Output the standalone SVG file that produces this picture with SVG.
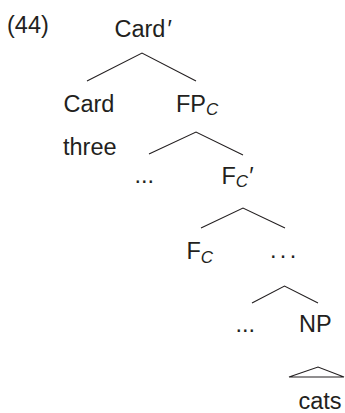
<svg xmlns="http://www.w3.org/2000/svg" width="345" height="413" viewBox="0 0 345 413">
<style>
text{font-family:"Liberation Sans",Arial,sans-serif;font-size:23.5px;fill:#231f20}
.sub{font-size:17px;font-style:italic}
.e{fill:none;stroke:#231f20;stroke-width:1.1}
</style>
<rect width="345" height="413" fill="#fff"/>
<g id="connectors">
<path class="e" d="M87 81L142 53L196 81"/>
<path class="e" d="M149 154L196 132L243 155"/>
<path class="e" d="M201 228L243 208L285 228"/>
<path class="e" d="M252 303L284.5 286L318 303"/>
<path class="e" d="M289 377L318 367L344 377Z"/>
</g>
<g id="label44"><text x="7" y="33">(44)</text></g>
<g id="cardbar"><text x="114.5" y="37">Card<tspan dx="2">′</tspan></text></g>
<g id="card"><text x="63.5" y="111.5">Card</text></g>
<g id="fpc"><text x="176" y="111.5">FP<tspan class="sub" dy="3.5">C</tspan></text></g>
<g id="three"><text x="63" y="155">three</text></g>
<g id="dots1"><text x="134.5" y="183">...</text></g>
<g id="fcbar"><text x="221.5" y="183.5">F<tspan class="sub" dy="3.5">C</tspan><tspan dy="-3.5" dx="1">′</tspan></text></g>
<g id="fc"><text x="186.5" y="259.3">F<tspan class="sub" dy="3.5">C</tspan></text></g>
<g id="dots2"><text x="270" y="258" letter-spacing="-1.6">. . .</text></g>
<g id="dots3"><text x="235.5" y="331.7">...</text></g>
<g id="np"><text x="299" y="331.7">NP</text></g>
<g id="cats"><text x="298.5" y="409">cats</text></g>
</svg>
